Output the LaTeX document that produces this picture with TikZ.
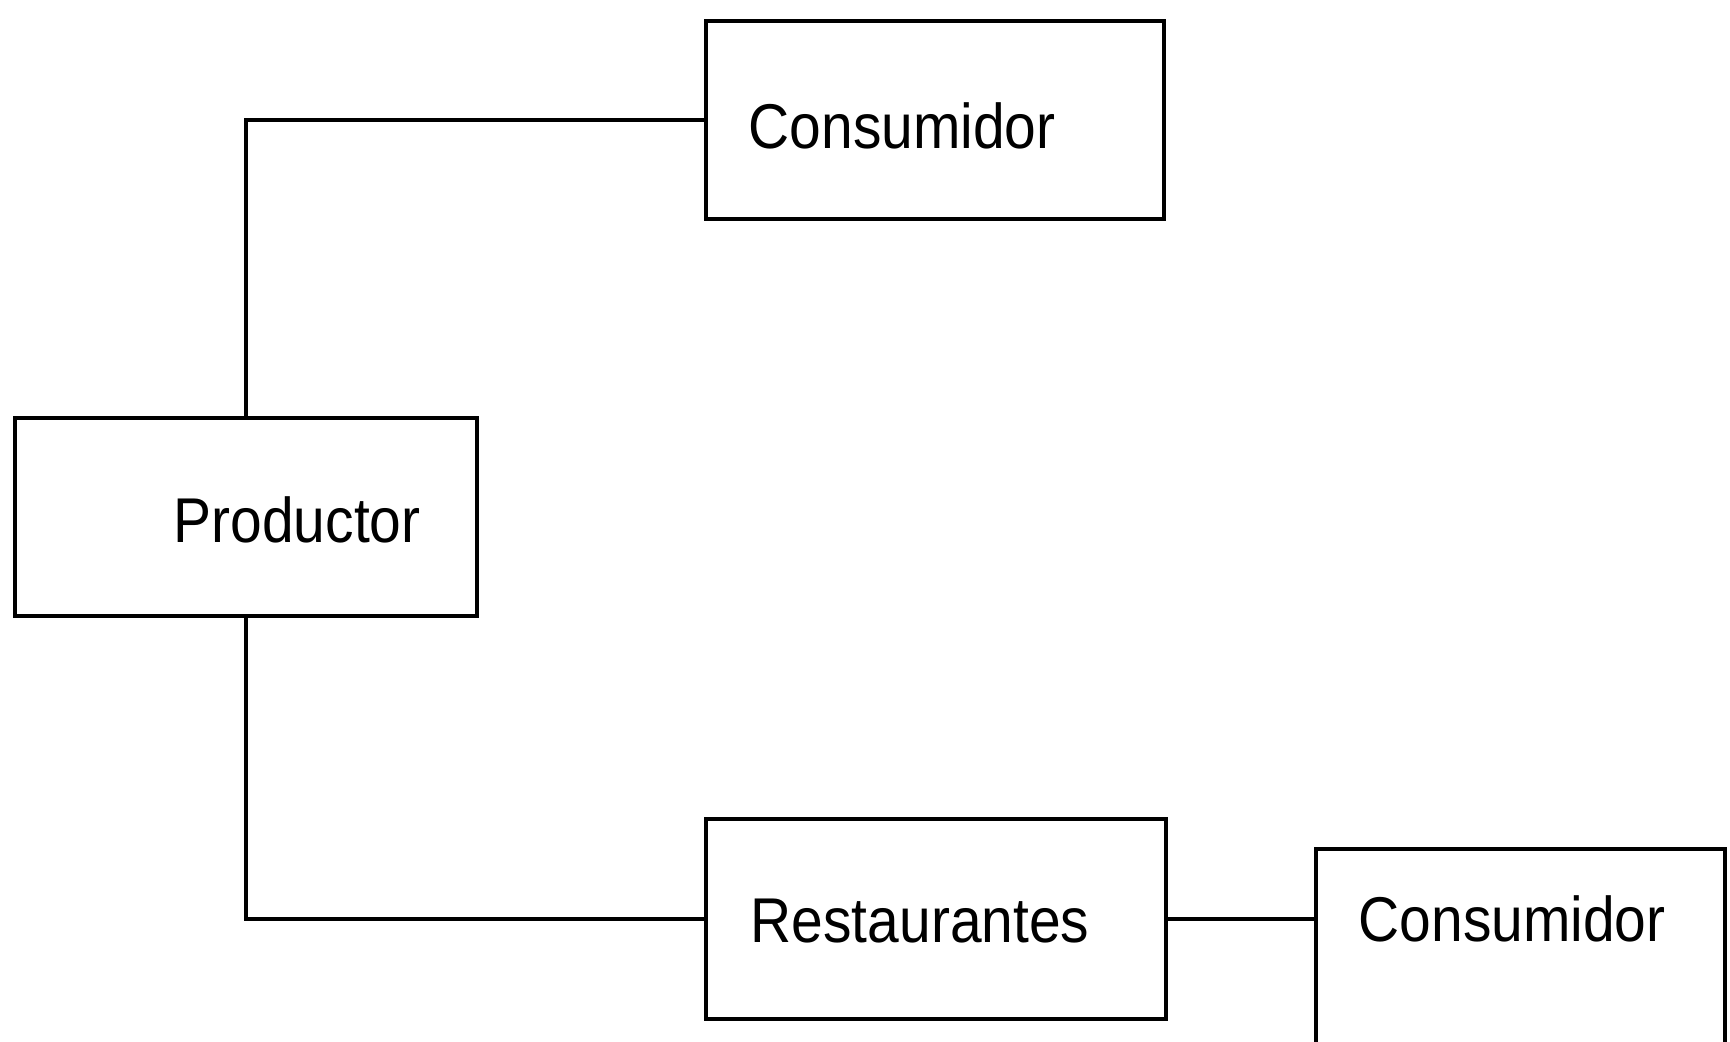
\documentclass[tikz,border=0pt]{standalone}
\usepackage{fontspec}
\newfontfamily\plotfont[FakeStretch=0.9]{Liberation Sans}
\usetikzlibrary{calc}
\tikzset{
  box/.style={draw, line width=1.1pt, rectangle, inner sep=0pt},
  lbl/.style={inner sep=0pt, anchor=base west, font=\plotfont\fontsize{18}{20}\selectfont},
  link/.style={line width=1.1pt}
}
\begin{document}
\begin{tikzpicture}[x=0.1mm, y=-0.1mm]
  \useasboundingbox (0,0) rectangle (1730,1042);
  \draw
    (935,120) node[box, minimum width=45.8mm, minimum height=19.8mm] (cons1){}
    (246,517) node[box, minimum width=46.2mm, minimum height=19.8mm] (prod){}
    (936,919) node[box, minimum width=46.0mm, minimum height=20.0mm] (rest){}
    (1520.5,975) node[box, minimum width=40.9mm, minimum height=25.2mm] (cons2){};
  \draw
    (748,149) node[lbl] (cons1txt){Consumidor}
    (173,543) node[lbl] (prodtxt){Productor}
    (750,943) node[lbl] (resttxt){Restaurantes}
    (1358,942) node[lbl] (cons2txt){Consumidor};
  \begin{scope}[link]
    \draw (prod.north) |- (cons1.west);
    \draw (prod.south) |- (rest.west);
    \draw (rest.east) -- (rest.east -| cons2.west);
  \end{scope}
\end{tikzpicture}
\end{document}
